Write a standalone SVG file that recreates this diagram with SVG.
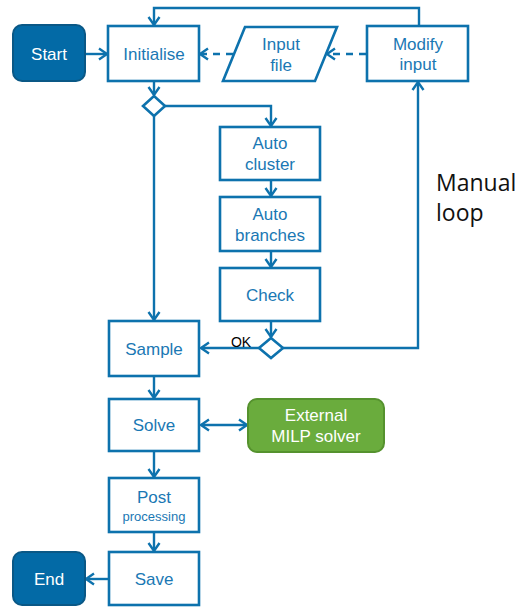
<svg xmlns="http://www.w3.org/2000/svg" width="518" height="609" viewBox="0 0 518 609">
<style>
.box{fill:#fff;stroke:#0d72ad;stroke-width:2.6}
.term{fill:#036aa6;stroke:#0a5886;stroke-width:2}
.ext{fill:#6aac3d;stroke:#55922e;stroke-width:2}
.t{font-family:"Liberation Sans",Arial,sans-serif;font-size:17px;fill:#1a78b4;text-anchor:middle}
.ts{font-family:"Liberation Sans",Arial,sans-serif;font-size:13px;fill:#1a78b4;text-anchor:middle}
.tw{font-family:"Liberation Sans",Arial,sans-serif;font-size:17px;fill:#fff;text-anchor:middle}
.ln{fill:none;stroke:#0d72ad;stroke-width:2.4}
.dash{stroke-dasharray:7,6}
</style>
<defs>
<marker id="ah" markerWidth="14" markerHeight="14" refX="11" refY="7" orient="auto" markerUnits="userSpaceOnUse">
<path d="M3,1.5 L11,7 L3,12.5" fill="none" stroke="#0d72ad" stroke-width="2.4"/>
</marker>
<marker id="as" markerWidth="14" markerHeight="14" refX="3" refY="7" orient="auto" markerUnits="userSpaceOnUse">
<path d="M11,1.5 L3,7 L11,12.5" fill="none" stroke="#0d72ad" stroke-width="2.4"/>
</marker>
</defs>
<g id="connectors">
<line class="ln" x1="86" y1="54" x2="107" y2="54" marker-end="url(#ah)"/>
<polyline class="ln" points="419,26 419,8 154,8 154,25" marker-end="url(#ah)"/>
<line class="ln dash" x1="366" y1="54" x2="327" y2="54" marker-end="url(#ah)"/>
<line class="ln dash" x1="233" y1="54" x2="200" y2="54" marker-end="url(#ah)"/>
<line class="ln" x1="154" y1="82" x2="154" y2="95" marker-end="url(#ah)"/>
<polyline class="ln" points="165,106 271,106 271,126" marker-end="url(#ah)"/>
<line class="ln" x1="154" y1="116" x2="154" y2="320" marker-end="url(#ah)"/>
<line class="ln" x1="271" y1="181" x2="271" y2="196" marker-end="url(#ah)"/>
<line class="ln" x1="271" y1="252" x2="271" y2="267" marker-end="url(#ah)"/>
<line class="ln" x1="271" y1="322" x2="271" y2="337" marker-end="url(#ah)"/>
<line class="ln" x1="259" y1="348" x2="201" y2="348" marker-end="url(#ah)"/>
<polyline class="ln" points="283,348 418,348 418,82" marker-end="url(#ah)"/>
<line class="ln" x1="154" y1="377" x2="154" y2="398" marker-end="url(#ah)"/>
<line class="ln" x1="201" y1="425" x2="247" y2="425" marker-start="url(#as)" marker-end="url(#ah)"/>
<line class="ln" x1="154" y1="452" x2="154" y2="477" marker-end="url(#ah)"/>
<line class="ln" x1="154" y1="533" x2="154" y2="551" marker-end="url(#ah)"/>
<line class="ln" x1="108" y1="579" x2="86" y2="579" marker-end="url(#ah)"/>
<text x="241" y="347" font-family="Liberation Sans,Arial,sans-serif" font-size="14" fill="#000" text-anchor="middle">OK</text>
</g>
<g id="start"><rect class="term" x="13" y="25" width="72" height="56" rx="9"/><text class="tw" x="49" y="60">Start</text></g>
<g id="initialise"><rect class="box" x="108" y="26" width="91" height="55"/><text class="t" x="154" y="60">Initialise</text></g>
<g id="inputfile"><polygon class="box" points="245,27 337,27 315,81 223,81"/><text class="t" x="281" y="50">Input</text><text class="t" x="281" y="71">file</text></g>
<g id="modify"><rect class="box" x="367" y="26" width="101" height="55"/><text class="t" x="418" y="50">Modify</text><text class="t" x="418" y="70">input</text></g>
<g id="decision1"><polygon class="box" points="154,96 165,106 154,116 143,106"/></g>
<g id="autocluster"><rect class="box" x="220" y="127" width="100" height="53"/><text class="t" x="270" y="149">Auto</text><text class="t" x="270" y="170">cluster</text></g>
<g id="autobranches"><rect class="box" x="220" y="197" width="100" height="54"/><text class="t" x="270" y="220">Auto</text><text class="t" x="270" y="241">branches</text></g>
<g id="check"><rect class="box" x="220" y="268" width="100" height="53"/><text class="t" x="270" y="301">Check</text></g>
<g id="decision2"><polygon class="box" points="271,338 283,348 271,358 259,348"/></g>
<g id="sample"><rect class="box" x="109" y="321" width="90" height="55"/><text class="t" x="154" y="355">Sample</text></g>
<g id="solve"><rect class="box" x="109" y="399" width="90" height="52"/><text class="t" x="154" y="431">Solve</text></g>
<g id="external"><rect class="ext" x="248" y="399" width="136" height="53" rx="9"/><text class="tw" x="316" y="421">External</text><text class="tw" x="316" y="442">MILP solver</text></g>
<g id="post"><rect class="box" x="109" y="478" width="90" height="54"/><text class="t" x="154" y="503">Post</text><text class="ts" x="154" y="521">processing</text></g>
<g id="save"><rect class="box" x="109" y="552" width="90" height="53"/><text class="t" x="154" y="585">Save</text></g>
<g id="end"><rect class="term" x="13" y="552" width="72" height="53" rx="9"/><text class="tw" x="49" y="585">End</text></g>
<g id="manual-loop-label"><text x="436" y="191" font-family="Open Sans,Liberation Sans,sans-serif" font-size="23" fill="#111">Manual</text><text x="436" y="221" font-family="Open Sans,Liberation Sans,sans-serif" font-size="23" fill="#111">loop</text></g>
</svg>
